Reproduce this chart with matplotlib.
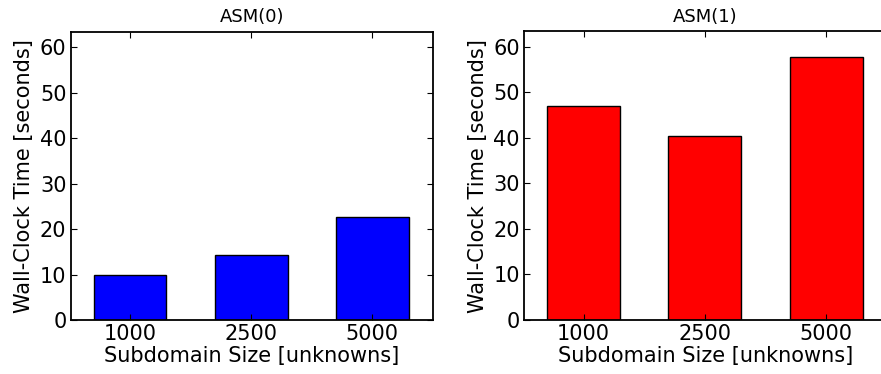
import numpy as np
import matplotlib.pyplot as plt

sizes = ['1000', '2500', '5000']
asm0_times = [10.0, 14.3, 22.6]
asm1_times = [47.0, 40.5, 57.7]

plt.rcParams['font.family'] = 'DejaVu Sans'
plt.rcParams['xtick.direction'] = 'in'
plt.rcParams['ytick.direction'] = 'in'
plt.rcParams['xtick.top'] = True
plt.rcParams['ytick.right'] = True
plt.rcParams['xtick.major.size'] = 4
plt.rcParams['ytick.major.size'] = 4
plt.rcParams['xtick.major.pad'] = 3
plt.rcParams['ytick.major.pad'] = 3


def bar_panel(ax, times, color, title):
    x = np.arange(len(sizes))
    ax.bar(x, times, width=0.6, color=color, edgecolor='black', linewidth=1)
    ax.set_xlim(-0.49, 2.5)
    ax.set_ylim(0, 63.4)
    ax.set_xticks(x)
    ax.set_xticklabels(sizes)
    ax.set_yticks(np.arange(0, 61, 10))
    ax.tick_params(labelsize=15)
    ax.set_xlabel('Subdomain Size [unknowns]', fontsize=15, labelpad=1)
    ax.set_ylabel('Wall-Clock Time [seconds]', fontsize=15, labelpad=4)
    ax.set_title(title, fontsize=13, pad=7)
    for s in ax.spines.values():
        s.set_linewidth(1.3)


fig = plt.figure(figsize=(8.81, 3.74), dpi=100)
ax0 = fig.add_axes([0.0802, 0.1444, 0.4112, 0.770])
ax1 = fig.add_axes([0.5948, 0.1444, 0.4120, 0.772])

bar_panel(ax0, asm0_times, '#0000ff', 'ASM(0)')
bar_panel(ax1, asm1_times, '#ff0000', 'ASM(1)')

fig.savefig('out.png', dpi=100, facecolor='white')
